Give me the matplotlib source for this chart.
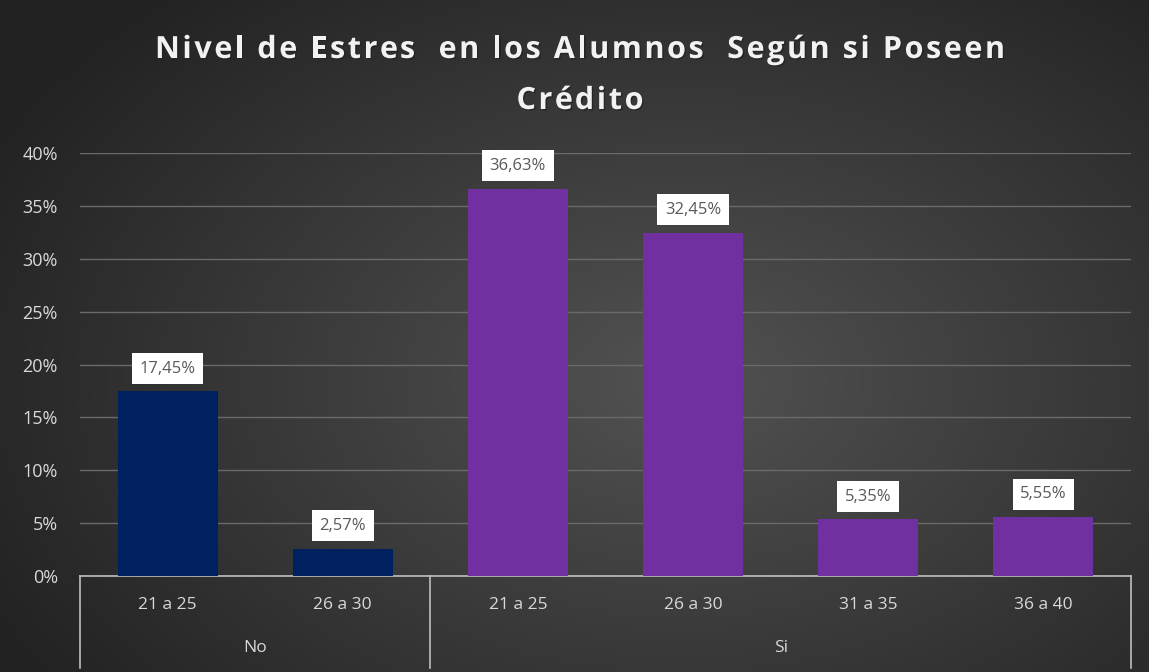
import numpy as np
import matplotlib.pyplot as plt
import matplotlib.patheffects as pe
from matplotlib.transforms import blended_transform_factory

# data
categorias = ['21 a 25', '26 a 30', '21 a 25', '26 a 30', '31 a 35', '36 a 40']
grupos = ['No', 'Si']
grupo_tam = [2, 4]
valores = [17.45, 2.57, 36.63, 32.45, 5.35, 5.55]
etiquetas = ['17,45%', '2,57%', '36,63%', '32,45%', '5,35%', '5,55%']
colores_grupo = ['#002060', '#7030A0']
titulo = ['Nivel de Estres  en los Alumnos  Según si Poseen', 'Crédito']

plt.rcParams['font.family'] = ['Open Sans', 'DejaVu Sans']

W, H = 1149, 672
fig = plt.figure(figsize=(W / 100, H / 100), dpi=100)

# gradient background
bg = fig.add_axes([0, 0, 1, 1])
yy, xx = np.mgrid[0:H, 0:W]
d = np.sqrt(((xx - 680) / 900.0) ** 2 + ((yy - 380) / 600.0) ** 2)
shade = np.clip(82 - 55 * d, 34, 82) / 255.0
bg.imshow(np.dstack([shade, shade, shade]), aspect='auto', extent=[0, 1, 0, 1])
bg.axis('off')

ax = fig.add_axes([80 / W, (H - 576) / H, (1131 - 80) / W, (576 - 153) / H])
ax.patch.set_alpha(0)

x = np.arange(len(valores))
cols = []
for g, n in enumerate(grupo_tam):
    cols += [colores_grupo[g]] * n
ax.bar(x, np.array(valores) / 100, width=0.57, color=cols, zorder=3)

ax.set_xlim(-0.5, len(valores) - 0.5)
ax.set_ylim(0, 0.40)
ax.set_yticks(np.arange(0, 0.41, 0.05))
ax.set_yticklabels([f'{int(v)}%' for v in np.arange(0, 41, 5)], color='#d9d9d9', fontsize=13)
ax.tick_params(axis='y', length=0, pad=16)
ax.set_xticks([])
ax.grid(axis='y', color='#6a6a6a', linewidth=1, zorder=0)
for s in ['top', 'right', 'left']:
    ax.spines[s].set_visible(False)
ax.spines['bottom'].set_color('#bfbfbf')
ax.spines['bottom'].set_linewidth(1.2)

# data labels
for xi, v, lab in zip(x, valores, etiquetas):
    ax.annotate(lab, (xi, v / 100), xytext=(0, 16.5), textcoords='offset points',
                ha='center', va='center', fontsize=12, color='#595959', zorder=5,
                bbox=dict(boxstyle='square,pad=0.45', fc='white', ec='none'))

# category / group labels
tr = blended_transform_factory(ax.transData, ax.transAxes)
for xi, c in zip(x, categorias):
    ax.text(xi, -0.068, c, transform=tr, ha='center', va='center',
            fontsize=12.5, color='#d9d9d9')
bordes = [-0.5]
for n in grupo_tam:
    bordes.append(bordes[-1] + n)
for g, nombre in enumerate(grupos):
    ax.text((bordes[g] + bordes[g + 1]) / 2, -0.17, nombre, transform=tr,
            ha='center', va='center', fontsize=12.5, color='#d9d9d9')
for b in bordes:
    ax.plot([b, b], [0, -0.218], transform=tr, color='#bfbfbf', lw=1.2, clip_on=False)

# title with letter spacing: place char by char
renderer = fig.canvas.get_renderer()
tprops = dict(fontsize=22, fontweight='bold', color='#f2f2f2',
              path_effects=[pe.withSimplePatchShadow(offset=(1, -1), shadow_rgbFace='#222222', alpha=0.8)])
tracking = 2.6
for linea, yc in zip(titulo, [50, 101]):
    ref = fig.text(0, 0, '|', **tprops)
    w_ref = ref.get_window_extent(renderer).width
    ref.remove()
    pos = []
    for i in range(len(linea)):
        t = fig.text(0, 0, linea[:i] + '|', **tprops)
        pos.append(t.get_window_extent(renderer).width - w_ref + i * tracking)
        t.remove()
    t = fig.text(0, 0, linea, **tprops)
    total = t.get_window_extent(renderer).width + (len(linea) - 1) * tracking
    t.remove()
    x0 = 580 - total / 2
    for ch, p in zip(linea, pos):
        if ch.strip():
            fig.text((x0 + p) / W, 1 - yc / H, ch, ha='left', va='center', **tprops)

fig.savefig('out.png', dpi=100)
